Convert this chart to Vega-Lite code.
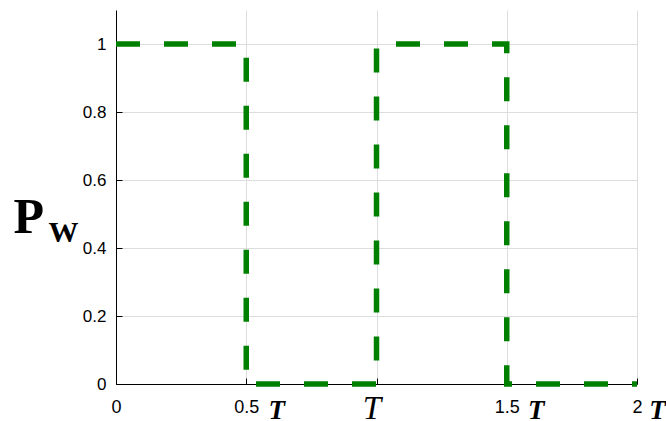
{
  "$schema": "https://vega.github.io/schema/vega-lite/v6.json",
  "autosize": "none",
  "width": 521,
  "height": 374,
  "padding": {"left": 116, "top": 10, "right": 29, "bottom": 37},
  "background": "white",
  "config": {"view": {"stroke": null}},
  "data": {"values": [
    {"t": 0, "p": 1},
    {"t": 0.5, "p": 0},
    {"t": 1, "p": 1},
    {"t": 1.5, "p": 0},
    {"t": 2, "p": 0}
  ]},
  "layer": [
    {
      "mark": {"type": "line", "interpolate": "step-after", "color": "#008000", "strokeWidth": 5.5, "strokeDash": [24, 24], "clip": false},
      "encoding": {
        "x": {"field": "t", "type": "quantitative", "scale": {"domain": [0, 2], "nice": false},
          "axis": {"values": [0, 0.5, 1, 1.5, 2], "format": "~g", "labelExpr": "datum.value == 1 ? '' : datum.label",
            "title": null, "grid": true, "gridColor": "#dddddd", "gridWidth": 1,
            "domainColor": "black", "tickColor": "black", "tickSize": -6,
            "labelFont": "Liberation Sans", "labelFontSize": 18, "labelColor": "black",
            "labelBaseline": "alphabetic", "labelPadding": 34, "labelFlush": false, "labelOverlap": false, "labelBound": false}},
        "y": {"field": "p", "type": "quantitative", "scale": {"domain": [0, 1.1], "nice": false},
          "axis": {"values": [0, 0.2, 0.4, 0.6, 0.8, 1], "format": "~g",
            "grid": true, "gridColor": "#dddddd", "gridWidth": 1,
            "domainColor": "black", "tickColor": "black", "tickSize": -6,
            "labelFont": "Liberation Sans", "labelFontSize": 17, "labelColor": "black", "labelPadding": 16,
            "labelOverlap": false, "labelBound": false,
            "title": "P", "titleAngle": 0, "titleX": -103, "titleY": 222, "titleAlign": "left", "titleBaseline": "alphabetic",
            "titleFont": "Liberation Serif", "titleFontSize": 50, "titleFontWeight": "bold", "titleColor": "black"}}
      }
    },
    {
      "mark": {"type": "point", "opacity": 0},
      "encoding": {
        "x": {"field": "t", "type": "quantitative",
          "axis": {"orient": "bottom", "values": [0.5, 1, 1.5, 2], "labelExpr": "'T'", "title": null,
            "grid": false, "domain": false, "ticks": false,
            "labelFont": "Liberation Serif", "labelFontStyle": "italic",
            "labelFontWeight": {"condition": {"test": "datum.value == 1", "value": "normal"}, "value": "bold"},
            "labelFontSize": {"condition": {"test": "datum.value == 1", "value": 33}, "value": 27},
            "labelOffset": {"expr": "datum.value == 0.5 ? 30 : datum.value == 1 ? -5 : datum.value == 1.5 ? 29 : 20"},
            "labelColor": "black", "labelBaseline": "alphabetic", "labelPadding": 34,
            "labelFlush": false, "labelOverlap": false, "labelBound": false}},
        "y": {"field": "p", "type": "quantitative",
          "axis": {"orient": "left", "labels": false, "ticks": false, "domain": false, "grid": false,
            "title": "W", "titleAngle": 0, "titleX": -68, "titleY": 231, "titleAlign": "left", "titleBaseline": "alphabetic",
            "titleFont": "Liberation Serif", "titleFontSize": 30, "titleFontWeight": "bold", "titleColor": "black"}}
      }
    }
  ],
  "resolve": {"axis": {"x": "independent", "y": "independent"}}
}
